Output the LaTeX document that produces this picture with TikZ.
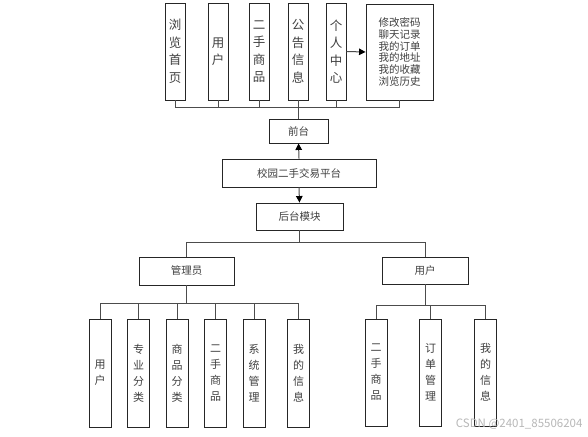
\documentclass[tikz,border=0pt]{standalone}
\usepackage{fontspec}
\setmainfont{Noto Sans CJK SC}
\usetikzlibrary{arrows.meta}
\tikzset{
  box/.style={draw=black!85, line width=0.9pt, fill=white, inner sep=0pt, align=center, text=black!75},
  vbox/.style={box, minimum width=20pt, minimum height=97pt, font=\fontsize{12.5}{17.5}\selectfont},
  hbox/.style={box, font=\fontsize{10.5}{12}\selectfont},
  lbox/.style={box, minimum width=22pt, minimum height=108pt, font=\fontsize{11}{16}\selectfont},
  conn/.style={draw=black!70, line width=1pt},
  arr/.style={conn, -{Triangle[length=6.5pt,width=6.5pt,color=black]}}
}
\begin{document}
\begin{tikzpicture}[x=1pt,y=-1pt]
    \useasboundingbox[fill=white] (0,0) rectangle (588,436);

    % Front-end modules
    \node[vbox] (t1) at (175,51.5) {浏\\览\\首\\页};
    \node[vbox] (t2) at (218,51.5) {用\\户};
    \node[vbox] (t3) at (259,51.5) {二\\手\\商\\品};
    \node[vbox] (t4) at (298,51.5) {公\\告\\信\\息};
    \node[vbox] (t5) at (336,51.5) {个\\人\\中\\心};
    \node[box, minimum width=67pt, minimum height=96pt, font=\fontsize{10.5}{11.8}\selectfont] (t6) at (399.5,52)
        {修改密码\\聊天记录\\我的订单\\我的地址\\我的收藏\\浏览历史};
    \draw[arr] (t5.east) -- (t6.west);

    % Platform
    \node[hbox, minimum width=59pt, minimum height=24pt] (qt) at (298.5,131) {前台};
    \node[hbox, minimum width=154pt, minimum height=28pt] (xy) at (299,173) {校园二手交易平台};
    \node[hbox, minimum width=87pt, minimum height=27pt] (ht) at (299.5,216.5) {后台模块};
    \draw[arr] (xy.north) -- (qt.south);
    \draw[arr] (xy.south) -- (ht.north);

    % Top bus
    \coordinate (topbus) at (0,107);
    \draw[conn] (t1.south) |- (qt.north |- topbus) -- (qt.north);
    \draw[conn] (t2.south) |- (qt.north |- topbus);
    \draw[conn] (t3.south) |- (qt.north |- topbus);
    \draw[conn] (t4.south) |- (qt.north |- topbus);
    \draw[conn] (t5.south) |- (qt.north |- topbus);
    \draw[conn] (t6.south) |- (qt.north |- topbus);

    % Roles
    \node[hbox, minimum width=95pt, minimum height=28pt] (gl) at (186.5,271) {管理员};
    \node[hbox, minimum width=86pt, minimum height=27pt] (yh) at (425,270.5) {用户};
    \coordinate (midbus) at (0,242);
    \draw[conn] (ht.south) |- (gl.north |- midbus) -- (gl.north);
    \draw[conn] (ht.south) |- (yh.north |- midbus) -- (yh.north);

    % Administrator functions
    \node[lbox] (c1) at (100,373) {用\\户};
    \node[lbox] (c2) at (138.5,373) {专\\业\\分\\类};
    \node[lbox] (c3) at (177,373) {商\\品\\分\\类};
    \node[lbox] (c4) at (215.5,373) {二\\手\\商\\品};
    \node[lbox] (c5) at (254,373) {系\\统\\管\\理};
    \node[lbox] (c6) at (298.5,373) {我\\的\\信\\息};
    \coordinate (abus) at (0,303);
    \draw[conn] (gl.south) |- (c1.north |- abus) -- (c1.north);
    \draw[conn] (gl.south) |- (c2.north |- abus) -- (c2.north);
    \draw[conn] (gl.south) |- (c3.north |- abus) -- (c3.north);
    \draw[conn] (gl.south) |- (c4.north |- abus) -- (c4.north);
    \draw[conn] (gl.south) |- (c5.north |- abus) -- (c5.north);
    \draw[conn] (gl.south) |- (c6.north |- abus) -- (c6.north);

    % User functions
    \node[lbox, minimum height=107pt] (u1) at (376,372.5) {二\\手\\商\\品};
    \node[lbox, minimum height=107pt] (u2) at (430.5,372.5) {订\\单\\管\\理};
    \node[lbox, minimum height=107pt] (u3) at (485.5,372.5) {我\\的\\信\\息};
    \coordinate (ubus) at (0,305);
    \draw[conn] (yh.south) |- (u1.north |- ubus) -- (u1.north);
    \draw[conn] (yh.south) |- (u2.north |- ubus) -- (u2.north);
    \draw[conn] (yh.south) |- (u3.north |- ubus) -- (u3.north);

    % Watermark
    \node[text=black!28, font=\fontsize{11.5}{13}\selectfont, anchor=east] (wm) at (586,424) {CSDN @2401\_85506204};
\end{tikzpicture}
\end{document}
